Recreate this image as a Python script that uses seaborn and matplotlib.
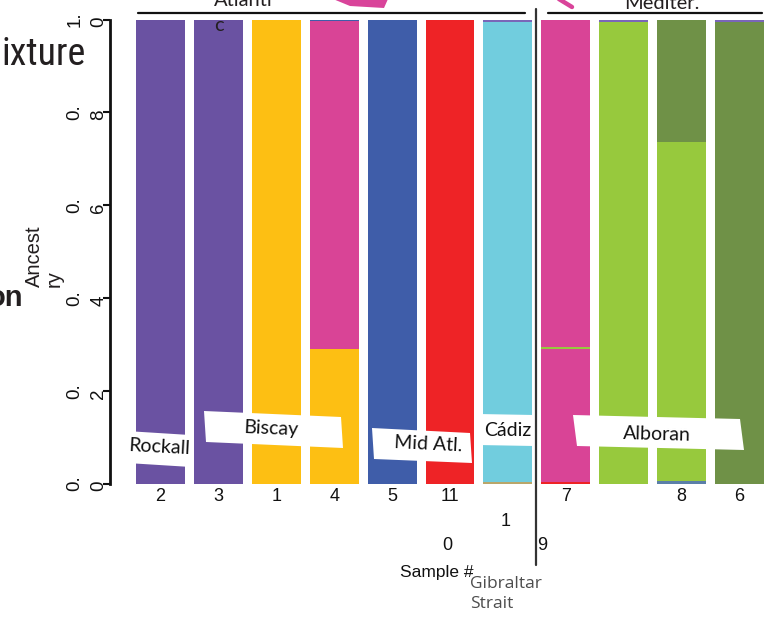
import numpy as np
import pandas as pd
import matplotlib
matplotlib.use("Agg")
import matplotlib.pyplot as plt
import seaborn as sns
from matplotlib.patches import Polygon
from matplotlib.lines import Line2D
from matplotlib import font_manager as fm

# ---------------- data ----------------
tick_labels = ["2", "3", "1", "4", "5", "11", "", "7", "", "8", "6"]
stray_digits = ["1", "0", "9"]
y_ticks = [0.0, 0.2, 0.4, 0.6, 0.8, 1.0]
y_tick_labels = ["0.\n0", "0.\n2", "0.\n4", "0.\n6", "0.\n8", "1.\n0"]

# ancestry proportions per bar (bottom -> top stacking order)
red              = [0, 0, 0, 0, 0, 1.0, 0, 0.004, 0, 0, 0]
olive_trace_low  = [0, 0, 0, 0, 0, 0, 0.004, 0, 0, 0, 0]
blue_trace_low   = [0, 0, 0, 0, 0, 0, 0, 0, 0, 0.006, 0]
purple           = [1.0, 1.0, 0, 0, 0, 0, 0, 0, 0, 0, 0]
yellow           = [0, 0, 1.0, 0.29, 0, 0, 0, 0, 0, 0, 0]
pink_lower       = [0, 0, 0, 0, 0, 0, 0, 0.286, 0, 0, 0]
light_green      = [0, 0, 0, 0, 0, 0, 0, 0.004, 0.995, 0.73, 0]
pink             = [0, 0, 0, 0.706, 0, 0, 0, 0.706, 0, 0, 0]
blue             = [0, 0, 0, 0.004, 1.0, 0, 0, 0, 0, 0, 0]
cyan             = [0, 0, 0, 0, 0, 0, 0.99, 0, 0, 0, 0]
olive            = [0, 0, 0, 0, 0, 0, 0, 0, 0, 0.264, 0.995]
purple_trace_top = [0, 0, 0, 0, 0, 0, 0.006, 0, 0.005, 0, 0.005]

layers = [
    (red, "#EE2326"),
    (olive_trace_low, "#B9A66A"),
    (blue_trace_low, "#5B7FA8"),
    (purple, "#6A52A2"),
    (yellow, "#FDBF13"),
    (pink_lower, "#D94496"),
    (light_green, "#97C93D"),
    (pink, "#D94496"),
    (blue, "#3F5DA9"),
    (cyan, "#71CDDE"),
    (olive, "#6F9147"),
    (purple_trace_top, "#7A66B8"),
]

region_labels = ["Rockall", "Biscay", "Mid Atl.", "Cádiz", "Alboran"]

# ---------------- style ----------------
sns.set_style("white")
plt.rcParams["font.family"] = ["Liberation Sans", "DejaVu Sans"]

avail = {f.name for f in fm.fontManager.ttflist}
label_font = "Lato" if "Lato" in avail else "DejaVu Sans"

W, H = 770, 620
fig = plt.figure(figsize=(W / 100, H / 100), dpi=100)
fig.patch.set_facecolor("white")
renderer = fig.canvas.get_renderer()

# pick a narrow regular sans face among the known families
bases = ["Liberation Sans", "DejaVu Sans", "Noto Sans", "Roboto", "Open Sans", "Lato", "Inter"]
suffixes = ["", " Narrow", " Condensed", " SemiCondensed", " ExtraCondensed",
            " Semi Condensed", " Extra Condensed"]
allowed = {b + s for b in bases for s in suffixes}
best_fp, best_ratio = fm.FontProperties(family="Liberation Sans"), 0.0
for f in fm.fontManager.ttflist:
    if f.name not in allowed:
        continue
    if f.style != "normal" or f.weight not in ("normal", 400, "regular", "book"):
        continue
    try:
        fp = fm.FontProperties(fname=f.fname, size=100)
        w, _, _ = renderer.get_text_width_height_descent("ixture", fp, ismath=False)
        _, h, d = renderer.get_text_width_height_descent("x", fp, ismath=False)
        ratio = (h - d) / w
    except Exception:
        continue
    if ratio > best_ratio and w > 0:
        best_ratio, best_fp = ratio, fm.FontProperties(fname=f.fname)


def fx(x):
    return x / W


def fy(y):
    return 1 - y / H


y0, y1 = 483.5, 19.5
ax = fig.add_axes([fx(110), fy(y0), (W - 110) / W, (y0 - y1) / H])

n = len(tick_labels)
positions = list(range(n))
cum = np.cumsum(np.array([np.array(v, dtype=float) for v, _ in layers]), axis=0)

for k in range(len(layers) - 1, -1, -1):
    df = pd.DataFrame({"pos": positions, "top": cum[k]})
    sns.barplot(data=df, x="pos", y="top", color=layers[k][1], width=0.846,
                saturation=1, linewidth=0, errorbar=None, ax=ax)

ax.set_xlim((110 - 160.5) / 57.9, (770 - 160.5) / 57.9)
ax.set_ylim(0, 1)
ax.set_xlabel("")
ax.set_ylabel("")
for s in ["top", "right", "bottom"]:
    ax.spines[s].set_visible(False)
ax.spines["left"].set_linewidth(2.0)
ax.spines["left"].set_color("#111111")

ax.set_xticks(positions)
ax.set_xticklabels(tick_labels, fontsize=13, color="#111111")
ax.tick_params(axis="x", length=0, pad=3)

ax.set_yticks(y_ticks)
ax.set_yticklabels(y_tick_labels, fontsize=13.5, color="#111111")
ax.tick_params(axis="y", length=5, width=1.5, color="#111111", pad=-3, left=True)
for lbl in ax.get_yticklabels():
    lbl.set_rotation(90)
    lbl.set_va("center")
    lbl.set_ha("right")
    lbl.set_multialignment("left")
    lbl.set_linespacing(1.5)

# ---------------- annotations ----------------
txt = "#231F20"
# stray wrapped digits of sample numbers
fig.text(fx(506), fy(521), stray_digits[0], ha="center", va="center", fontsize=13, color="#111111")
fig.text(fx(447), fy(545), stray_digits[1], ha="center", va="center", fontsize=13, color="#111111")
fig.text(fx(542), fy(545), stray_digits[2], ha="center", va="center", fontsize=13, color="#111111")

fig.text(fx(437), fy(572), "Sample #", ha="center", va="center", fontsize=12.5, color="#111111")
fig.text(fx(470), fy(594), "Gibraltar\nStrait", ha="left", va="center", fontsize=12.5,
         color="#4D4D4D", family="Open Sans", linespacing=1.35)

# ylabel pieces
fig.text(fx(34), fy(256), "Ancest", rotation=90, ha="center", va="center", fontsize=14.5, color=txt)
fig.text(fx(54), fy(279), "ry", rotation=90, ha="center", va="center", fontsize=14.5, color=txt)

# big clipped panel titles
big = fig.text(fx(1), fy(65), "ixture", ha="left", va="baseline", color=txt,
               fontproperties=best_fp)
big.set_fontsize(30)
fig.canvas.draw()
bw = big.get_window_extent(renderer).width
big.set_fontsize(min(34, 30 * 84.0 / bw))

fig.text(fx(23), fy(306), "on", ha="right", va="baseline", fontsize=21, color=txt,
         weight="bold")

# top region lines and labels
fig.add_artist(Line2D([fx(138), fx(525)], [fy(12.7), fy(12.7)], color="#111111", lw=1.6))
fig.add_artist(Line2D([fx(548), fx(762)], [fy(13.3), fy(13.3)], color="#111111", lw=1.6))
fig.add_artist(Line2D([fx(535.5), fx(535.5)], [fy(9), fy(565)], color="#333333", lw=1.6))

fig.text(fx(214), fy(6), "Atlanti", ha="left", va="baseline", fontsize=14.5, color=txt,
         family=label_font)
fig.text(fx(214), fy(31), "c", ha="left", va="baseline", fontsize=14.5, color=txt,
         family=label_font)
fig.text(fx(662), fy(9), "Mediter.", ha="center", va="baseline", fontsize=14.5, color=txt,
         family=label_font)

# pink arrow fragments
pink_c = "#D9449A"
fig.add_artist(Polygon([(fx(333), fy(-1)), (fx(388), fy(-1)), (fx(384), fy(8)), (fx(350), fy(6))],
                       closed=True, fc=pink_c, ec="none"))
fig.add_artist(Line2D([fx(554), fx(572)], [fy(-4), fy(7)], color=pink_c, lw=3.2,
                      solid_capstyle="round"))

# region label boxes (white, slightly rotated)
boxes = [
    [(126, 431), (190, 435), (191, 467), (127, 463)],
    [(204, 411), (341, 417), (343, 448), (206, 442)],
    [(372, 428), (470, 433), (472, 463), (374, 459)],
    [(478, 414), (534, 415), (534, 446), (478, 445)],
    [(573, 415), (740, 419), (744, 450), (577, 446)],
]
for b in boxes:
    fig.add_artist(Polygon([(fx(x), fy(y)) for x, y in b], closed=True,
                           fc="white", ec="none", zorder=5))

label_pos = [(159, 447, -3), (271, 429, -2.5), (428, 444, -2.8), (508, 430, 0), (657, 434, -1.5)]
for name, (x, y, r) in zip(region_labels, label_pos):
    fig.text(fx(x), fy(y), name, ha="center", va="center", rotation=r, fontsize=14,
             color="#111111", family=label_font, zorder=6, rotation_mode="anchor")

fig.savefig("out.png", dpi=100, facecolor="white")
